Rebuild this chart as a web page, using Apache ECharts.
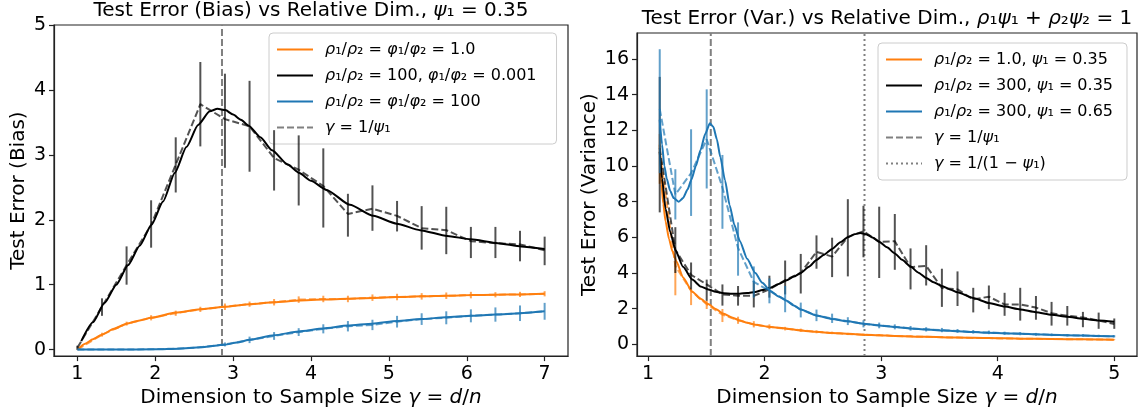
<!DOCTYPE html>
<html><head><meta charset="utf-8">
<script src="https://cdn.jsdelivr.net/npm/echarts@6/dist/echarts.min.js"></script>
<style>html,body{margin:0;padding:0;background:#fff}#c{width:1143px;height:413px}</style>
</head><body><div id="c"></div>
<script>
// ---------- LEFT PANEL DATA (bias) ----------
const leftXTicks = [1, 2, 3, 4, 5, 6, 7];
const leftYTicks = [0, 1, 2, 3, 4, 5];
const leftXRange = [0.7, 7.3];
const leftYRange = [-0.1, 5];
const leftRefX = 2.857;
const leftErrX = [1.0, 1.316, 1.632, 1.947, 2.263, 2.579, 2.895, 3.211, 3.526, 3.842, 4.158, 4.474, 4.789, 5.105, 5.421, 5.737, 6.053, 6.368, 6.684, 7.0];

const leftOrangeTheoryX = [1.0, 1.1, 1.2, 1.316, 1.47, 1.632, 1.8, 1.947, 2.263, 2.579, 2.895, 3.211, 3.526, 3.842, 4.158, 4.474, 4.789, 5.105, 5.421, 5.737, 6.053, 6.368, 6.684, 7.0];
const leftOrangeTheoryY = [0.0, 0.09, 0.16, 0.23, 0.32, 0.40, 0.45, 0.49, 0.57, 0.62, 0.66, 0.70, 0.73, 0.755, 0.77, 0.785, 0.795, 0.81, 0.82, 0.83, 0.84, 0.845, 0.85, 0.86];
const leftOrangeEmp = [0.0, 0.23, 0.40, 0.49, 0.56, 0.62, 0.66, 0.70, 0.73, 0.77, 0.78, 0.78, 0.80, 0.81, 0.82, 0.83, 0.84, 0.845, 0.85, 0.86];
const leftOrangeLo = [0.0, 0.20, 0.37, 0.45, 0.52, 0.58, 0.61, 0.66, 0.68, 0.72, 0.73, 0.73, 0.75, 0.76, 0.77, 0.78, 0.79, 0.805, 0.81, 0.82];
const leftOrangeHi = [0.01, 0.26, 0.43, 0.53, 0.60, 0.66, 0.71, 0.74, 0.78, 0.82, 0.83, 0.83, 0.85, 0.86, 0.87, 0.88, 0.89, 0.885, 0.89, 0.90];

const leftBlackTheoryX = [1.05, 1.2, 1.35, 1.5, 1.65, 1.8, 1.95, 2.1, 2.25, 2.4, 2.55, 2.7, 2.8, 2.9, 3.0, 3.1, 3.2, 3.35, 3.5, 3.7, 3.85, 4.0, 4.2, 4.5, 4.8, 5.1, 5.4, 5.75, 6.05, 6.4, 6.7, 7.0];
const leftBlackTheoryY = [0.13, 0.42, 0.72, 1.0, 1.3, 1.6, 1.92, 2.28, 2.72, 3.12, 3.46, 3.67, 3.71, 3.69, 3.62, 3.54, 3.45, 3.27, 3.07, 2.85, 2.72, 2.6, 2.46, 2.23, 2.06, 1.94, 1.84, 1.75, 1.70, 1.64, 1.59, 1.55];
const leftBlackEmp = [0.03, 0.66, 1.30, 1.92, 2.85, 3.78, 3.55, 3.44, 2.95, 2.77, 2.52, 2.09, 2.17, 2.06, 1.87, 1.84, 1.67, 1.64, 1.62, 1.53];
const leftBlackLo = [0.0, 0.52, 1.0, 1.57, 2.42, 3.13, 2.80, 2.74, 2.45, 2.22, 1.88, 1.74, 1.83, 1.82, 1.54, 1.47, 1.41, 1.41, 1.36, 1.30];
const leftBlackHi = [0.06, 0.79, 1.59, 2.30, 3.27, 4.43, 4.25, 4.14, 3.38, 3.30, 3.10, 2.40, 2.53, 2.29, 2.21, 2.20, 1.89, 1.89, 1.83, 1.74];

const leftBlueTheoryX = [1.0, 1.5, 2.0, 2.3, 2.579, 2.895, 3.05, 3.211, 3.526, 3.842, 4.158, 4.474, 4.789, 5.105, 5.421, 5.737, 6.053, 6.368, 6.684, 7.0];
const leftBlueTheoryY = [0.0, 0.0, 0.005, 0.015, 0.035, 0.075, 0.11, 0.15, 0.22, 0.28, 0.325, 0.37, 0.40, 0.44, 0.47, 0.50, 0.52, 0.54, 0.56, 0.59];
const leftBlueEmp = [0.0, 0.0, 0.0, 0.005, 0.015, 0.035, 0.08, 0.15, 0.21, 0.27, 0.32, 0.36, 0.38, 0.43, 0.47, 0.49, 0.52, 0.54, 0.56, 0.59];
const leftBlueLo = [0.0, 0.0, 0.0, 0.0, 0.005, 0.025, 0.05, 0.10, 0.15, 0.21, 0.25, 0.28, 0.30, 0.34, 0.38, 0.39, 0.42, 0.43, 0.44, 0.46];
const leftBlueHi = [0.005, 0.005, 0.005, 0.01, 0.025, 0.045, 0.11, 0.20, 0.27, 0.33, 0.39, 0.44, 0.46, 0.52, 0.56, 0.59, 0.62, 0.65, 0.68, 0.72];

// ---------- RIGHT PANEL DATA (variance) ----------
const rightXTicks = [1, 2, 3, 4, 5];
const rightYTicks = [0, 2, 4, 6, 8, 10, 12, 14, 16];
const rightXRange = [0.905, 5.195];
const rightYRange = [-0.66, 17.46];
const rightRefX1 = 1.538;
const rightRefX2 = 2.857;
const rightErrX = [1.100, 1.234, 1.369, 1.503, 1.638, 1.772, 1.907, 2.041, 2.176, 2.310, 2.445, 2.579, 2.714, 2.848, 2.983, 3.117, 3.252, 3.386, 3.521, 3.655, 3.790, 3.924, 4.059, 4.193, 4.328, 4.462, 4.597, 4.731, 4.866, 5.000];

const rightOrangeTheoryX = [1.1, 1.115, 1.13, 1.15, 1.18, 1.21, 1.244, 1.3, 1.38, 1.45, 1.516, 1.58, 1.65, 1.72, 1.787, 1.85, 1.92, 2.05, 2.19, 2.31, 2.445, 2.579, 2.714, 2.848, 2.983, 3.117, 3.386, 3.655, 3.924, 4.193, 4.462, 4.731, 5.0];
const rightOrangeTheoryY = [11.2, 9.0, 7.9, 6.9, 5.9, 5.2, 4.64, 3.75, 2.95, 2.55, 2.26, 1.98, 1.71, 1.5, 1.34, 1.21, 1.10, 0.97, 0.88, 0.78, 0.70, 0.64, 0.59, 0.54, 0.51, 0.47, 0.42, 0.38, 0.35, 0.32, 0.30, 0.28, 0.26];
const rightOrangeEmp = [10.8, 4.4, 3.0, 2.25, 1.66, 1.35, 1.12, 0.98, 0.88, 0.79, 0.70, 0.64, 0.58, 0.54, 0.51, 0.47, 0.45, 0.42, 0.40, 0.38, 0.36, 0.35, 0.33, 0.32, 0.31, 0.30, 0.29, 0.28, 0.27, 0.26];
const rightOrangeLo = [9.0, 2.75, 2.2, 1.98, 1.25, 1.15, 0.95, 0.85, 0.78, 0.70, 0.62, 0.57, 0.52, 0.48, 0.46, 0.42, 0.41, 0.38, 0.36, 0.35, 0.33, 0.32, 0.30, 0.29, 0.285, 0.275, 0.265, 0.26, 0.25, 0.24];
const rightOrangeHi = [11.8, 4.6, 3.1, 2.44, 1.98, 1.55, 1.3, 1.12, 0.98, 0.88, 0.78, 0.71, 0.64, 0.60, 0.56, 0.52, 0.49, 0.46, 0.44, 0.41, 0.39, 0.38, 0.36, 0.35, 0.335, 0.325, 0.315, 0.30, 0.29, 0.28];

const rightBlackTheoryX = [1.1, 1.12, 1.15, 1.19, 1.235, 1.3, 1.38, 1.45, 1.516, 1.58, 1.65, 1.72, 1.787, 1.85, 1.92, 1.98, 2.05, 2.12, 2.19, 2.25, 2.31, 2.38, 2.445, 2.51, 2.579, 2.65, 2.714, 2.77, 2.82, 2.87, 2.93, 2.983, 3.05, 3.117, 3.18, 3.252, 3.32, 3.386, 3.45, 3.521, 3.59, 3.655, 3.79, 3.924, 4.059, 4.193, 4.328, 4.462, 4.597, 4.731, 4.866, 5.0];
const rightBlackTheoryY = [10.8, 9.3, 7.6, 6.3, 5.28, 4.35, 3.63, 3.25, 3.08, 2.95, 2.86, 2.84, 2.84, 2.88, 2.94, 3.04, 3.17, 3.38, 3.6, 3.8, 4.0, 4.35, 4.73, 5.03, 5.35, 5.72, 6.0, 6.18, 6.24, 6.18, 5.98, 5.75, 5.44, 5.1, 4.74, 4.36, 4.02, 3.72, 3.48, 3.27, 3.08, 2.92, 2.6, 2.32, 2.12, 1.96, 1.8, 1.66, 1.54, 1.43, 1.34, 1.27];
const rightBlackEmp = [11.0, 5.3, 3.9, 3.36, 2.8, 2.72, 2.72, 3.08, 3.6, 4.0, 5.19, 4.92, 6.02, 6.34, 5.75, 5.78, 4.33, 4.4, 3.16, 3.08, 2.52, 2.67, 2.24, 2.24, 2.06, 1.75, 1.6, 1.51, 1.33, 1.14];
const rightBlackLo = [7.4, 4.0, 3.08, 2.44, 2.17, 2.17, 2.07, 2.62, 2.8, 2.85, 4.24, 3.77, 3.81, 4.88, 3.72, 4.18, 3.08, 3.3, 2.1, 2.15, 1.79, 1.97, 1.6, 1.33, 1.38, 1.05, 1.05, 0.96, 0.87, 0.87];
const rightBlackHi = [15.0, 6.57, 4.59, 3.63, 3.36, 3.27, 3.54, 3.85, 4.7, 5.07, 6.11, 5.98, 8.14, 7.77, 7.72, 7.31, 5.38, 5.56, 4.24, 4.09, 3.17, 3.3, 2.89, 3.17, 2.71, 2.38, 2.15, 1.82, 1.78, 1.45];

const rightBlueTheoryX = [1.1, 1.12, 1.14, 1.16, 1.19, 1.22, 1.264, 1.3, 1.34, 1.372, 1.41, 1.45, 1.49, 1.53, 1.56, 1.59, 1.62, 1.66, 1.70, 1.74, 1.787, 1.85, 1.92, 1.98, 2.05, 2.12, 2.19, 2.25, 2.31, 2.445, 2.579, 2.714, 2.848, 2.983, 3.117, 3.252, 3.386, 3.521, 3.655, 3.79, 3.924, 4.059, 4.193, 4.328, 4.462, 4.597, 4.731, 4.866, 5.0];
const rightBlueTheoryY = [12.6, 11.2, 10.0, 9.3, 8.6, 8.2, 8.0, 8.2, 8.7, 9.24, 10.0, 10.9, 11.8, 12.4, 12.2, 11.5, 10.5, 9.2, 7.8, 6.7, 5.8, 4.8, 4.0, 3.45, 2.99, 2.68, 2.44, 2.18, 1.95, 1.62, 1.42, 1.29, 1.16, 1.06, 0.97, 0.89, 0.83, 0.78, 0.73, 0.69, 0.65, 0.62, 0.59, 0.56, 0.53, 0.51, 0.49, 0.47, 0.45];
const rightBlueEmp = [13.2, 8.4, 9.6, 11.5, 8.8, 5.4, 3.5, 3.0, 2.5, 1.95, 1.62, 1.45, 1.3, 1.15, 1.07, 0.98, 0.9, 0.84, 0.8, 0.75, 0.7, 0.67, 0.62, 0.6, 0.56, 0.54, 0.51, 0.5, 0.47, 0.45];
const rightBlueLo = [9.6, 7.0, 7.2, 8.74, 6.48, 3.85, 2.62, 2.3, 1.8, 1.51, 1.3, 1.2, 1.08, 0.95, 0.9, 0.84, 0.77, 0.72, 0.68, 0.64, 0.6, 0.57, 0.53, 0.51, 0.48, 0.46, 0.44, 0.43, 0.4, 0.39];
const rightBlueHi = [16.55, 9.82, 12.06, 14.3, 10.62, 6.84, 4.37, 3.7, 3.27, 2.34, 1.95, 1.72, 1.52, 1.35, 1.22, 1.12, 1.03, 0.96, 0.92, 0.86, 0.8, 0.77, 0.71, 0.69, 0.64, 0.62, 0.58, 0.57, 0.54, 0.51];

// ---------- TEXT ----------
const L1 = 'ρ₁/ρ₂ = φ₁/φ₂ = 1.0';
const L2 = 'ρ₁/ρ₂ = 100, φ₁/φ₂ = 0.001';
const L3 = 'ρ₁/ρ₂ = φ₁/φ₂ = 100';
const REF1 = 'γ = 1/ψ₁';
const R1 = 'ρ₁/ρ₂ = 1.0, ψ₁ = 0.35';
const R2 = 'ρ₁/ρ₂ = 300, ψ₁ = 0.35';
const R3 = 'ρ₁/ρ₂ = 300, ψ₁ = 0.65';
const REF2 = 'γ = 1/(1 − ψ₁)';
const TITLE_L = 'Test Error (Bias) vs Relative Dim., {i|ψ}₁ = 0.35';
const TITLE_R = 'Test Error (Var.) vs Relative Dim., {i|ρ}₁{i|ψ}₁ + {i|ρ}₂{i|ψ}₂ = 1';
const XNAME = 'Dimension to Sample Size {i|γ} = {i|d}/{i|n}';
const YNAME_L = 'Test Error (Bias)';
const YNAME_R = 'Test Error (Variance)';

// ---------- STYLE ----------
const FONT = 'DejaVu Sans';
const ORANGE = '#ff7f0e', BLUE = '#1f77b4', BLACK = '#000000', GRAY = '#808080';
const ORANGE_A = 'rgba(255,127,14,0.7)', BLUE_A = 'rgba(31,119,180,0.7)', BLACK_A = 'rgba(0,0,0,0.68)';
const AX = '#222';

function pairs(xs, ys) { return xs.map((x, i) => [x, ys[i]]); }
function bars(xs, lo, hi) { return xs.map((x, i) => [x, lo[i], hi[i]]); }
function greekItalic(s) { return s.replace(/([ργφψ])/g, '{i|$1}'); }
const richStyles = (size) => ({ i: { fontStyle: 'italic', fontFamily: FONT, fontSize: size, color: '#000' } });

function theory(name, gi, xs, ys, color, z) {
  return { type: 'line', name, xAxisIndex: gi, yAxisIndex: gi, data: pairs(xs, ys), symbol: 'none', showSymbol: false,
    smooth: 0.2, smoothMonotone: 'x', lineStyle: { color, width: 2 }, itemStyle: { color }, z, animation: false, clip: true };
}
function emp(name, gi, xs, ys, color, z) {
  return { type: 'line', name, xAxisIndex: gi, yAxisIndex: gi, data: pairs(xs, ys), symbol: 'none', showSymbol: false,
    lineStyle: { color, width: 2, type: [7, 3] }, itemStyle: { color }, z, animation: false, clip: true };
}
function errbars(name, gi, xs, lo, hi, color, z) {
  return { type: 'custom', name, xAxisIndex: gi, yAxisIndex: gi, data: bars(xs, lo, hi), z, clip: true, animation: false,
    encode: { x: 0, y: [1, 2] },
    renderItem: function (params, api) {
      const x = api.value(0);
      const a = api.coord([x, api.value(1)]);
      const b = api.coord([x, api.value(2)]);
      return { type: 'line', shape: { x1: a[0], y1: a[1], x2: b[0], y2: b[1] }, style: { stroke: color, lineWidth: 2 } };
    } };
}
function vline(name, gi, x, yr, type, z) {
  return { type: 'line', name, xAxisIndex: gi, yAxisIndex: gi, data: [[x, yr[0]], [x, yr[1]]], symbol: 'none', showSymbol: false,
    lineStyle: { color: GRAY, width: 2, type }, itemStyle: { color: GRAY }, z, animation: false };
}

function xAxisCfg(gi, range, ticks, gap) {
  return { type: 'value', gridIndex: gi, min: range[0], max: range[1],
    axisLine: { show: true, onZero: false, lineStyle: { color: AX, width: 1.2 } },
    axisTick: { show: true, inside: false, length: 5, customValues: ticks, lineStyle: { color: AX, width: 1.2 } },
    axisLabel: { customValues: ticks, fontSize: 19, fontFamily: FONT, color: '#000', margin: 8 },
    splitLine: { show: false },
    name: XNAME, nameLocation: 'middle', nameGap: gap,
    nameTextStyle: { fontSize: 20, fontFamily: FONT, color: '#000', rich: richStyles(20) } };
}
function yAxisCfg(gi, range, ticks, name, gap) {
  return { type: 'value', gridIndex: gi, min: range[0], max: range[1],
    axisLine: { show: true, onZero: false, lineStyle: { color: AX, width: 1.2 } },
    axisTick: { show: true, inside: false, length: 5, customValues: ticks, lineStyle: { color: AX, width: 1.2 } },
    axisLabel: { customValues: ticks, fontSize: 19, fontFamily: FONT, color: '#000', margin: 8 },
    splitLine: { show: false },
    name, nameLocation: 'middle', nameRotate: 90, nameGap: gap,
    nameTextStyle: { fontSize: 20, fontFamily: FONT, color: '#000' } };
}
function legendCfg(names, left, top, padRight) {
  return { data: names, orient: 'vertical', left, top, padding: [7, padRight, 7, 7], itemWidth: 36, itemHeight: 14, itemGap: 7,
    backgroundColor: 'rgba(255,255,255,0.8)', borderColor: '#cccccc', borderWidth: 1, borderRadius: 4,
    selectedMode: false, formatter: (n) => greekItalic(n),
    itemStyle: { color: 'rgba(0,0,0,0)', borderColor: 'rgba(0,0,0,0)', borderWidth: 0, opacity: 0 },
    textStyle: { fontSize: 16, fontFamily: FONT, color: '#000', lineHeight: 19, padding: [0, 0, 0, 7], rich: richStyles(16) } };
}

const chart = echarts.init(document.getElementById('c'), null, { renderer: 'canvas' });
chart.setOption({
  animation: false,
  backgroundColor: '#fff',
  title: [
    { text: TITLE_L, left: 311, top: 1, textAlign: 'center', padding: 0,
      textStyle: { fontSize: 20, fontWeight: 'normal', fontFamily: FONT, color: '#000', rich: richStyles(20) } },
    { text: TITLE_R, left: 887, top: 9, textAlign: 'center', padding: 0,
      textStyle: { fontSize: 20, fontWeight: 'normal', fontFamily: FONT, color: '#000', rich: richStyles(20) } }
  ],
  grid: [
    { left: 54, top: 25, width: 514, height: 335, show: true, borderColor: AX, borderWidth: 1.2, backgroundColor: 'transparent' },
    { left: 637, top: 33, width: 500, height: 328, show: true, borderColor: AX, borderWidth: 1.2, backgroundColor: 'transparent' }
  ],
  xAxis: [xAxisCfg(0, leftXRange, leftXTicks, 21), xAxisCfg(1, rightXRange, rightXTicks, 21)],
  yAxis: [yAxisCfg(0, leftYRange, leftYTicks, YNAME_L, 25), yAxisCfg(1, rightYRange, rightYTicks, YNAME_R, 37)],
  legend: [legendCfg([L1, L2, L3, REF1], 269, 33, 20), legendCfg([R1, R2, R3, REF1, REF2], 878, 43, 14)],
  series: [
    vline(REF1, 0, leftRefX, leftYRange, [7, 3], 1),
    errbars('lo_err', 0, leftErrX, leftOrangeLo, leftOrangeHi, ORANGE_A, 2),
    emp('lo_emp', 0, leftErrX, leftOrangeEmp, ORANGE_A, 3),
    theory(L1, 0, leftOrangeTheoryX, leftOrangeTheoryY, ORANGE, 4),
    errbars('lk_err', 0, leftErrX, leftBlackLo, leftBlackHi, BLACK_A, 5),
    emp('lk_emp', 0, leftErrX, leftBlackEmp, BLACK_A, 6),
    theory(L2, 0, leftBlackTheoryX, leftBlackTheoryY, BLACK, 7),
    errbars('lb_err', 0, leftErrX, leftBlueLo, leftBlueHi, BLUE_A, 8),
    emp('lb_emp', 0, leftErrX, leftBlueEmp, BLUE_A, 9),
    theory(L3, 0, leftBlueTheoryX, leftBlueTheoryY, BLUE, 10),

    vline(REF1, 1, rightRefX1, rightYRange, [7, 3], 1),
    vline(REF2, 1, rightRefX2, rightYRange, [2, 3], 1),
    errbars('ro_err', 1, rightErrX, rightOrangeLo, rightOrangeHi, ORANGE_A, 2),
    emp('ro_emp', 1, rightErrX, rightOrangeEmp, ORANGE_A, 3),
    theory(R1, 1, rightOrangeTheoryX, rightOrangeTheoryY, ORANGE, 4),
    errbars('rk_err', 1, rightErrX, rightBlackLo, rightBlackHi, BLACK_A, 5),
    emp('rk_emp', 1, rightErrX, rightBlackEmp, BLACK_A, 6),
    theory(R2, 1, rightBlackTheoryX, rightBlackTheoryY, BLACK, 7),
    errbars('rb_err', 1, rightErrX, rightBlueLo, rightBlueHi, BLUE_A, 8),
    emp('rb_emp', 1, rightErrX, rightBlueEmp, BLUE_A, 9),
    theory(R3, 1, rightBlueTheoryX, rightBlueTheoryY, BLUE, 10)
  ]
});
</script></body></html>
